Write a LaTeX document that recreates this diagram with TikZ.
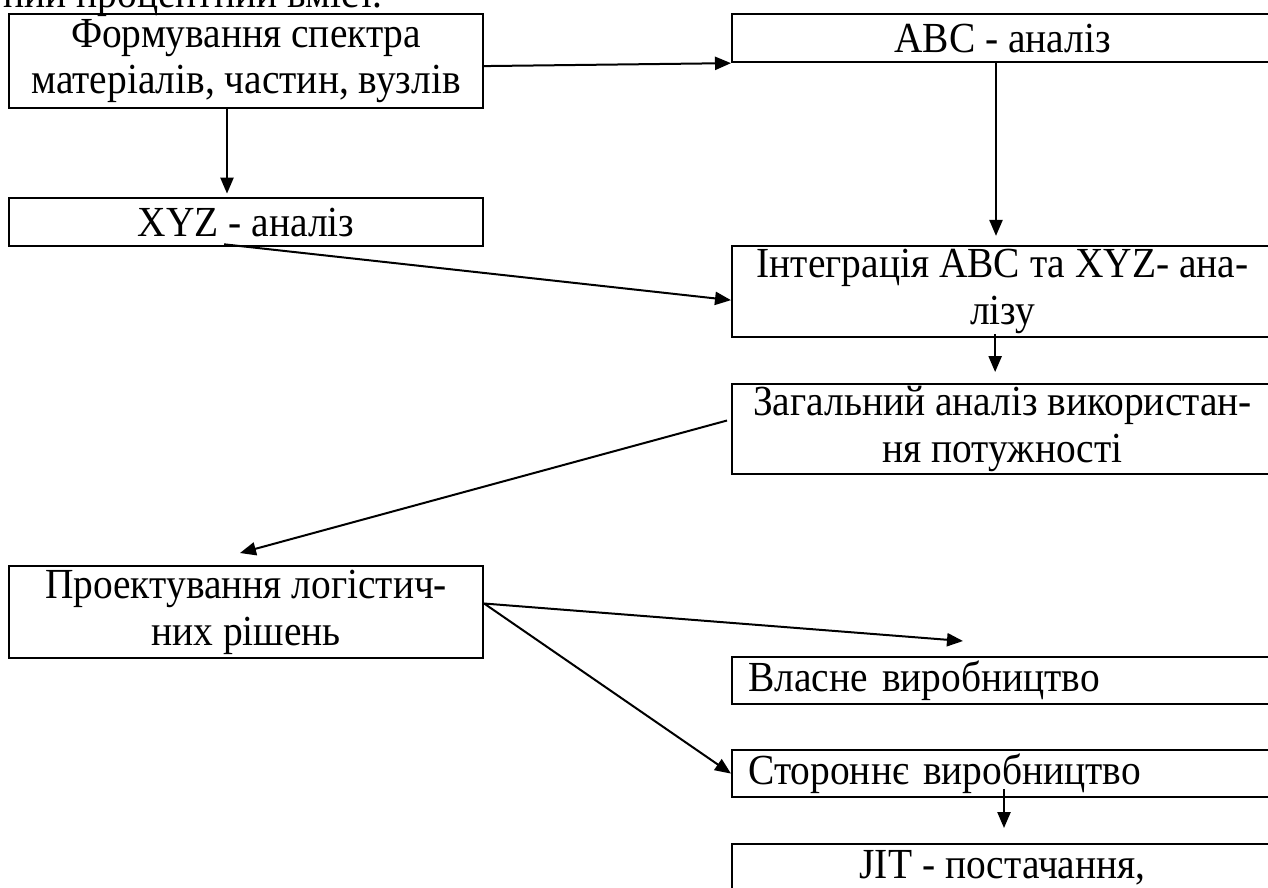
\documentclass[tikz,border=0pt]{standalone}
\usepackage{fontspec}
\setmainfont{Liberation Serif}[FakeStretch=0.92]
\usetikzlibrary{arrows.meta}
\newcommand\boxfont{\fontsize{15pt}{16.3pt}\selectfont}
\tikzset{
  box/.style={draw, line width=0.75pt, inner sep=0pt, anchor=north west, font=\boxfont, align=center},
  lbox/.style={box, align=left, text width=178pt, inner xsep=5.6pt},
  arr/.style={-{Triangle[length=5.6pt,width=4.6pt]}, line width=0.7pt},
}
\begin{document}
\begin{tikzpicture}[x=0.35pt, y=-0.35pt]
\useasboundingbox (0,0) rectangle (1268,887);
% partly visible line of running text above the diagram
\node[font=\boxfont, anchor=base west, inner sep=0pt] (toptext) at (3,7) {ний процентний вміст.};
% boxes
\node[box, minimum width=165.9pt, minimum height=32.9pt] (f1) at (8,13) {Формування спектра\\матеріалів, частин, вузлів};
\node[box, minimum width=189.35pt, minimum height=16.8pt] (abc) at (731,13) {ABC - аналіз};
\node[box, minimum width=165.9pt, minimum height=16.8pt] (xyz) at (8,197) {XYZ - аналіз};
\node[box, minimum width=189.35pt, minimum height=31.85pt] (int) at (731,245) {Інтеграція ABC та XYZ- ана-\\лізу};
\node[box, minimum width=189.35pt, minimum height=31.5pt] (gen) at (731,383) {Загальний аналіз використан-\\ня потужності};
\node[box, minimum width=165.9pt, minimum height=32.2pt] (proj) at (8,565) {Проектування логістич-\\них рішень};
\node[lbox, minimum width=189.35pt, minimum height=16.45pt] (own) at (731,656) {Власне виробництво};
\node[lbox, minimum width=189.35pt, minimum height=16.45pt] (ext) at (731,749) {Стороннє виробництво};
\node[box, minimum width=189.35pt, minimum height=16.8pt] (jit) at (731,843) {JIT - постачання,};
% free arrow ends
\coordinate (c1) at (227,0);
\coordinate (tipGen) at (240,553);
\coordinate (tipOwn) at (963,641);
% connectors
\draw[arr] ([yshift=-1.75pt]f1.east) -- (abc.south west);
\draw[arr, shorten >=1.2pt] (f1.south -| c1) -- (xyz.north -| c1);
\draw[arr, shorten >=3.2pt] ([xshift=-2.3pt]abc.south) -- ([xshift=-2.3pt]int.north);
\draw[arr] ([xshift=-7.7pt,yshift=1pt]xyz.south) -- ([yshift=-3pt]int.west);
\draw[arr, shorten >=3.85pt] ([xshift=-2.6pt,yshift=1.4pt]int.south) -- ([xshift=-2.6pt]gen.north);
\draw[arr] ([xshift=-1.4pt,yshift=3pt]gen.west) -- (tipGen);
\draw[arr] ([yshift=3pt]proj.east) -- (tipOwn);
\draw[arr] ([yshift=3pt]proj.east) -- (ext.west);
\draw[arr, shorten >=5.25pt] ([xshift=0.5pt,yshift=3.15pt]ext.south) -- ([xshift=0.5pt]jit.north);
\end{tikzpicture}
\end{document}
